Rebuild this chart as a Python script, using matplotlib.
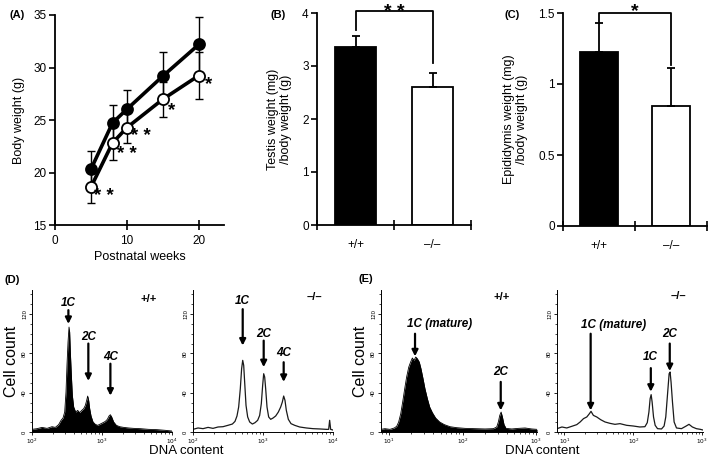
import numpy as np
import matplotlib
matplotlib.use('Agg')
import matplotlib.pyplot as plt
from matplotlib.ticker import LogLocator, NullFormatter, FixedLocator, MultipleLocator

plt.rcParams['font.family'] = ['Liberation Sans', 'DejaVu Sans']

# ---------------- Data ----------------
# (A) body weight
weeks = [5, 8, 10, 15, 20]
wt_weight = [20.35, 24.75, 26.05, 29.2, 32.2]
wt_err = [1.7, 1.7, 1.85, 2.3, 2.65]
ko_weight = [18.65, 22.85, 24.3, 27.0, 29.25]
ko_err = [1.55, 1.6, 1.5, 1.65, 2.2]
ko_sig = ['* *', '* *', '* *', '*', '*']

# (B), (C)
genotypes = ['+/+', '\u2013/\u2013']
testis_ratio = [3.35, 2.60]
testis_err = [0.22, 0.27]
testis_sig = '* *'
epid_ratio = [1.225, 0.847]
epid_err = [0.205, 0.266]
epid_sig = '*'

# (D) testis DNA content histograms
d_wt_dna = [100, 118, 139, 164, 193, 215, 240, 260, 277, 293, 306, 316, 327, 338, 345, 353,
            365, 377, 394, 421, 449, 480, 513, 547, 578, 604, 624, 645, 667, 697, 744, 803,
            867, 946, 1033, 1116, 1192, 1259, 1316, 1375, 1468, 1603, 1788, 2042, 2405,
            2834, 3530, 4642, 6107, 8035, 10000]
d_wt_count = [2.7, 3.4, 4.7, 3.7, 5.4, 4.7, 7.5, 11.9, 14.2, 20.3, 40.7, 68, 91.5, 106.8, 101.7,
              81.4, 57.6, 37.3, 25.4, 20.3, 22, 19.7, 22, 23.7, 27.1, 32.2, 36.6, 32.2, 23.7,
              16.3, 10.2, 7.8, 6.8, 8.1, 9.5, 10.8, 12.9, 16.3, 17.6, 15.3, 10.2, 6.8, 5.4,
              4.7, 4.1, 3.7, 3.4, 2.7, 2.4, 1.7, 1.0]
d_ko_dna = [100, 118, 139, 164, 193, 228, 268, 316, 365, 398, 425, 449, 474, 495, 513, 530,
            547, 572, 604, 645, 705, 769, 839, 896, 946, 989, 1023, 1057, 1092, 1141, 1205,
            1288, 1390, 1518, 1656, 1788, 1889, 1974, 2061, 2154, 2301, 2512, 2834, 3340,
            4159, 5179, 6450, 8035, 8670, 8955, 9260, 10000]
d_ko_count = [2.7, 4.1, 3.4, 4.7, 3.7, 5.1, 5.4, 6.8, 8.1, 10.8, 16.3, 25.4, 44, 64.4, 72.9,
              67.8, 50.8, 27.1, 15.3, 10.2, 8.1, 9.5, 11.9, 16.9, 28.8, 47.5, 59.3, 55.9, 44,
              25.4, 15.3, 12.9, 14.2, 16.3, 20.3, 25.4, 30.5, 36.6, 32.2, 22, 12.9, 8.5, 6.8,
              5.1, 4.1, 3.4, 3.1, 2.7, 2.7, 11.9, 2.7, 2.0]

# (E) epididymis DNA content histograms
e_wt_dna = [7.7, 8.7, 10.2, 11.7, 12.6, 13.4, 14.3, 15.2, 16.2, 17.2, 18.4, 19.5, 20.6, 21.7,
            22.9, 24.1, 25.6, 27.0, 28.8, 30.6, 33.0, 35.5, 38.6, 42.8, 48.5, 56.2, 67.2,
            82.9, 108, 147, 202, 262, 291, 306, 320, 334, 348, 366, 390, 466, 574, 708, 873,
            1032]
e_wt_count = [2.7, 3.4, 2.7, 4.1, 5.8, 10.2, 18.6, 30.5, 44, 55.9, 66.1, 71.2, 75.3, 72.9,
              76.3, 74.6, 71.2, 64.4, 54.2, 44, 33.9, 25.4, 19.7, 14.2, 10.2, 7.5, 5.4, 4.4,
              3.7, 3.4, 3.1, 3.4, 5.1, 10.2, 16.9, 20.3, 15.3, 7.5, 3.7, 3.1, 3.7, 4.1, 3.1,
              2.7]
e_ko_dna = [7.8, 9.2, 10.8, 12.8, 15.1, 16.9, 18.9, 21.1, 23.0, 24.3, 26.3, 29.4, 33.6, 38.8,
            45.8, 54.1, 63.9, 79.8, 99.6, 124, 147, 159, 168, 175, 181, 187, 196, 207, 224,
            256, 279, 295, 312, 330, 341, 352, 369, 390, 422, 498, 574, 641, 717, 820, 937,
            1023]
e_ko_count = [3.4, 5.1, 4.1, 5.8, 7.5, 10.2, 13.6, 15.3, 18.6, 21.0, 16.9, 15.3, 12.5, 10.2,
              8.8, 7.8, 8.5, 6.8, 6.1, 5.1, 5.4, 9.5, 20.3, 33.9, 38, 30.5, 15.3, 6.8, 3.4,
              3.1, 6.1, 15.3, 37.3, 59.3, 61, 50.8, 30.5, 10.2, 4.1, 3.4, 5.8, 7.8, 5.1, 3.4,
              2.7, 2.0]

W, H = 709, 458
fig = plt.figure(figsize=(W / 100, H / 100), dpi=100)


def px_axes(left, top, right, bottom):
    return fig.add_axes([left / W, 1 - bottom / H, (right - left) / W, (bottom - top) / H])


def ftext(x, y, s, **kw):
    fig.text(x / W, 1 - y / H, s, **kw)


def style_top(ax):
    for sp in ['top', 'right']:
        ax.spines[sp].set_visible(False)
    for sp in ['left', 'bottom']:
        ax.spines[sp].set_linewidth(1.3)
    ax.tick_params(axis='y', direction='out', length=4, width=1.2, labelsize=8.5, pad=2)
    ax.tick_params(axis='x', which='major', direction='inout', length=7, width=1.2, labelsize=8.5)


# ---------------- (A) ----------------
axA = px_axes(55, 15, 224, 225.5)
axA.errorbar(weeks, wt_weight, yerr=wt_err, fmt='none', ecolor='k', elinewidth=1.0, capsize=3, capthick=1.0, zorder=1)
axA.errorbar(weeks, ko_weight, yerr=ko_err, fmt='none', ecolor='k', elinewidth=1.0, capsize=3, capthick=1.0, zorder=1)
axA.plot(weeks, wt_weight, '-', color='k', lw=2.6, zorder=2)
axA.plot(weeks, ko_weight, '-', color='k', lw=2.6, zorder=2)
axA.plot(weeks, wt_weight, 'o', ms=8, mfc='k', mec='k', mew=1.2, zorder=3)
axA.plot(weeks, ko_weight, 'o', ms=8, mfc='white', mec='k', mew=1.3, zorder=3)
sig_dx = [1.8, 2.0, 1.9, 1.2, 1.3]
sig_dy = [-0.9, -1.1, -0.8, -1.1, -0.9]
for w, v, s, dx, dy in zip(weeks, ko_weight, ko_sig, sig_dx, sig_dy):
    axA.text(w + dx, v + dy, s, ha='center', va='center', fontsize=13.5, fontweight='bold')
axA.set_xlim(0, 23.5)
axA.set_ylim(15, 35)
axA.set_xticks([0, 10, 20])
axA.set_yticks([15, 20, 25, 30, 35])
style_top(axA)
axA.set_ylabel('Body weight (g)', fontsize=9, labelpad=6)
axA.set_xlabel('Postnatal weeks', fontsize=9, labelpad=3)


def bar_panel(ax, vals, errs, sig, ymax, yticks, yticklabels, ylabel, left_leg, top_y, right_leg, star_y):
    x = np.arange(len(vals))
    ax.bar(x, vals, width=0.52, color=['k', 'white'], edgecolor='k', linewidth=1.3, zorder=2)
    ax.errorbar(x, vals, yerr=[[0] * len(vals), errs], fmt='none', ecolor='k', elinewidth=1.3,
                capsize=3, capthick=1.3, zorder=3)
    ax.plot([0, 0, 1, 1], [left_leg, top_y, top_y, right_leg], color='k', lw=1.3, clip_on=False)
    ax.text(0.5, star_y, sig, ha='center', va='baseline', fontsize=14, fontweight='bold', clip_on=False)
    ax.set_xlim(-0.5, 1.5)
    ax.set_ylim(0, ymax)
    ax.set_xticks([-0.5, 0.5, 1.5])
    ax.set_xticklabels([])
    ax.set_xticks(x, minor=True)
    ax.set_xticklabels(genotypes, minor=True)
    ax.tick_params(axis='x', which='minor', length=0, labelsize=8.5, pad=10)
    ax.set_yticks(yticks)
    ax.set_yticklabels(yticklabels)
    style_top(ax)
    ax.set_ylabel(ylabel, fontsize=9, labelpad=7, linespacing=1.15)


axB = px_axes(317, 13, 471, 225)
bar_panel(axB, testis_ratio, testis_err, testis_sig, 4, [0, 1, 2, 3, 4], ['0', '1', '2', '3', '4'],
          'Testis weight (mg)\n/body weight (g)', 3.68, 4.04, 3.06, 3.93)

axC = px_axes(563, 13, 707, 226)
bar_panel(axC, epid_ratio, epid_err, epid_sig, 1.5, [0, 0.5, 1, 1.5], ['0', '0.5', '1', '1.5'],
          'Epididymis weight (mg)\n/body weight (g)', 1.43, 1.5, 1.134, 1.478)


# ---------------- flow panels ----------------
def flow_panel(ax, dna, count, filled, xlim, decades):
    ax.set_xscale('log')
    if filled:
        ax.fill_between(dna, count, 0, color='k', lw=0, zorder=2)
        ax.plot(dna, count, color='k', lw=0.6, zorder=2)
    else:
        ax.plot(dna, count, color='#1a1a1a', lw=0.9, zorder=2)
    ax.set_xlim(*xlim)
    ax.set_ylim(0, 144.5)
    for sp in ['top', 'right']:
        ax.spines[sp].set_visible(False)
    for sp in ['left', 'bottom']:
        ax.spines[sp].set_linewidth(0.7)
    ax.set_yticks([0, 40, 80, 120])
    ax.set_yticklabels(['0', '40', '80', '120'], rotation=90, va='center')
    ax.yaxis.set_minor_locator(MultipleLocator(10))
    ax.set_xticks([10.0 ** d for d in decades])
    ax.set_xticklabels(['$10^{%d}$' % d for d in decades])
    ax.xaxis.set_minor_locator(LogLocator(base=10, subs=np.arange(2, 10)))
    ax.xaxis.set_minor_formatter(NullFormatter())
    ax.tick_params(axis='both', which='major', direction='out', length=2.5, width=0.6, labelsize=4.2, pad=1)
    ax.tick_params(axis='both', which='minor', direction='out', length=1.3, width=0.5)


def arrow(ax, x, y_tail, y_tip, label, label_y, label_x=None):
    ax.annotate('', xy=(x, y_tip), xytext=(x, y_tail),
                arrowprops=dict(arrowstyle='-|>', color='k', lw=1.6, mutation_scale=9,
                                shrinkA=0, shrinkB=0))
    ax.text(label_x if label_x is not None else x, label_y, label, ha='center', va='center',
            fontsize=8.5, fontweight='bold', fontstyle='italic')


axD1 = px_axes(32, 290, 172, 432)
flow_panel(axD1, d_wt_dna, d_wt_count, True, (100, 10000), [2, 3, 4])
arrow(axD1, 331, 124, 110, '1C', 131)
arrow(axD1, 638, 90, 52, '2C', 97)
arrow(axD1, 1318, 69.5, 37, '4C', 76)
axD1.text(4640, 135.5, '+/+', ha='center', va='center', fontsize=8, fontweight='bold')
axD1.set_ylabel('Cell count', fontsize=11.5, labelpad=2)

axD2 = px_axes(193, 290, 333, 432)
flow_panel(axD2, d_ko_dna, d_ko_count, False, (100, 10000), [2, 3, 4])
arrow(axD2, 513, 125, 88, '1C', 133)
arrow(axD2, 1023, 93, 66, '2C', 100)
arrow(axD2, 1974, 71, 51, '4C', 80)
axD2.text(5470, 137, '\u2013/\u2013', ha='center', va='center', fontsize=8, fontweight='bold')

axE1 = px_axes(381, 290, 537, 432)
flow_panel(axE1, e_wt_dna, e_wt_count, True, (7.7, 1030), [1, 2, 3])
arrow(axE1, 22.4, 100, 77, '1C (mature)', 110, label_x=49)
arrow(axE1, 330, 51, 22, '2C', 61)
axE1.text(339, 137, '+/+', ha='center', va='center', fontsize=8, fontweight='bold')
axE1.set_ylabel('Cell count', fontsize=11.5, labelpad=2)

axE2 = px_axes(557, 290, 703, 432)
flow_panel(axE2, e_ko_dna, e_ko_count, False, (7.8, 1023), [1, 2, 3])
arrow(axE2, 24, 100, 22, '1C (mature)', 109, label_x=51)
arrow(axE2, 179, 65, 41, '1C', 76)
arrow(axE2, 337, 90, 62, '2C', 100)
axE2.text(445, 138, '\u2013/\u2013', ha='center', va='center', fontsize=8, fontweight='bold')

ftext(186, 451, 'DNA content', ha='center', va='center', fontsize=9.5)
ftext(542, 451, 'DNA content', ha='center', va='center', fontsize=9.5)

# panel letters
for (x, y, s) in [(17, 15, '(A)'), (278, 15, '(B)'), (512, 15, '(C)'), (12, 280, '(D)'), (366, 279, '(E)')]:
    ftext(x, y, s, ha='center', va='center', fontsize=8, fontweight='bold')

fig.savefig('out.png', dpi=100)
